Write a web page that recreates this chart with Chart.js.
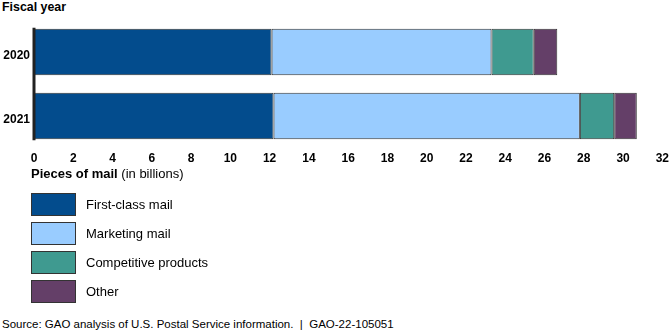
<!DOCTYPE html>
<html>
<head>
<meta charset="utf-8">
<script src="https://cdn.jsdelivr.net/npm/chart.js@4.4.1/dist/chart.umd.min.js"></script>
<style>
  body { margin: 0; width: 672px; height: 332px; position: relative; background: #fff;
         font-family: Arial, "Liberation Sans", sans-serif; color: #000; overflow: hidden; }
  #wrap { position: absolute; left: 0; top: 0; width: 672px; height: 178px; }
  .txt { position: absolute; font-size: 12px; line-height: 14px; white-space: nowrap; }
  .legend-item { position: absolute; left: 31px; height: 23px; }
  .legend-item .box { position: absolute; left: 0; top: 0; width: 43px; height: 21px; border: 1px solid #333; }
  .legend-item .lab { position: absolute; left: 55px; top: 0; line-height: 23px; font-size: 13px; white-space: nowrap; }
  #source { position: absolute; left: 2px; top: 318px; font-size: 11.5px; line-height: 13px; white-space: nowrap; }
</style>
</head>
<body>
<div class="txt" style="left:2px; top:0px; font-weight:bold; font-size:12.4px;">Fiscal year</div>
<div id="wrap"><canvas id="chart"></canvas></div>
<div class="txt" style="left:31px; top:166px; font-size:13px; line-height:15px;"><b>Pieces of mail</b> (in billions)</div>
<div id="legend"></div>
<div id="source">Source: GAO analysis of U.S. Postal Service information.&nbsp; |&nbsp; GAO-22-105051</div>

<script>
// Fiscal years
const years = ['2020', '2021'];

// Pieces of mail, in billions
const firstClass = [12.1, 12.2];
const marketing = [11.2, 15.6];
const competitive = [2.15, 1.75];
const other = [1.2, 1.15];

const seriesNames = ['First-class mail', 'Marketing mail', 'Competitive products', 'Other'];
const seriesColors = ['#034c8d', '#99ccff', '#3f9a90', '#643f68'];

// x axis ticks
const xMin = 0;
const xMax = 32;
const xStep = 2;

// Thick dark line along the left of the bars
const axisLine = {
    id: 'axisLine',
    afterDatasetsDraw(chart) {
        const first = chart.getDatasetMeta(0).data[0];
        const last = chart.getDatasetMeta(0).data[years.length - 1];
        const x = chart.scales.x.getPixelForValue(0);
        const ctx = chart.ctx;
        ctx.save();
        ctx.strokeStyle = '#222';
        ctx.lineWidth = 3;
        ctx.beginPath();
        ctx.moveTo(x, first.y - first.height / 2 - 1);
        ctx.lineTo(x, last.y + last.height / 2 + 1);
        ctx.stroke();
        ctx.restore();
    }
};

const allSeries = [firstClass, marketing, competitive, other];

new Chart(document.getElementById('chart'), {
    type: 'bar',
    data: {
        labels: years,
        datasets: allSeries.map((values, i) => ({
            label: seriesNames[i],
            data: values,
            backgroundColor: seriesColors[i],
            borderColor: '#333',
            borderWidth: 1,
            borderSkipped: false,
            barPercentage: 0.727,
            categoryPercentage: 1
        }))
    },
    options: {
        indexAxis: 'y',
        responsive: true,
        maintainAspectRatio: false,
        animation: false,
        layout: { padding: { top: 20, right: 9, left: 0, bottom: 0 } },
        plugins: { legend: { display: false }, tooltip: { enabled: false } },
        scales: {
            x: {
                stacked: true,
                min: xMin,
                max: xMax,
                grid: { display: false, drawTicks: false },
                border: { display: false },
                ticks: {
                    stepSize: xStep,
                    padding: 3,
                    color: '#000',
                    maxRotation: 0,
                    font: { family: 'Arial, "Liberation Sans"', size: 12, weight: 'bold' }
                },
                afterFit(scale) { scale.height = 30; }
            },
            y: {
                stacked: true,
                grid: { display: false, drawTicks: false },
                border: { display: false },
                ticks: {
                    padding: 4,
                    labelOffset: 4,
                    color: '#000',
                    font: { family: 'Arial, "Liberation Sans"', size: 12, weight: 'bold' }
                },
                afterFit(scale) { scale.width = 34; }
            }
        }
    },
    plugins: [axisLine]
});

// Legend
const legend = document.getElementById('legend');
seriesNames.forEach((name, i) => {
    const item = document.createElement('div');
    item.className = 'legend-item';
    item.style.top = (193 + i * 29) + 'px';
    item.innerHTML = `<div class="box" style="background:${seriesColors[i]}"></div><div class="lab">${name}</div>`;
    legend.appendChild(item);
});
</script>
</body>
</html>
